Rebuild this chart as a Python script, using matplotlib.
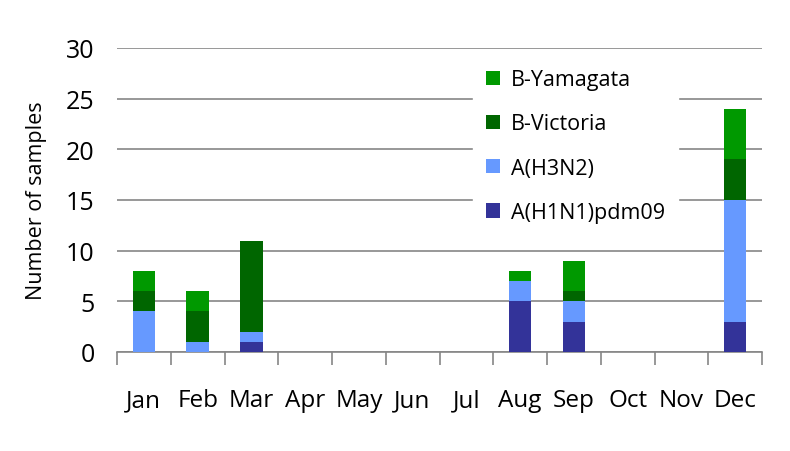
import matplotlib
matplotlib.use("Agg")
import matplotlib.pyplot as plt
import numpy as np

months = ["Jan", "Feb", "Mar", "Apr", "May", "Jun", "Jul", "Aug", "Sep", "Oct", "Nov", "Dec"]
h1n1 = [0, 0, 1, 0, 0, 0, 0, 5, 3, 0, 0, 3]
h3n2 = [4, 1, 1, 0, 0, 0, 0, 2, 2, 0, 0, 12]
victoria = [2, 3, 9, 0, 0, 0, 0, 0, 1, 0, 0, 4]
yamagata = [2, 2, 0, 0, 0, 0, 0, 1, 3, 0, 0, 5]

series_names = ["A(H1N1)pdm09", "A(H3N2)", "B-Victoria", "B-Yamagata"]
series_vals = [h1n1, h3n2, victoria, yamagata]
colors = ["#333399", "#6699FF", "#006600", "#009900"]

plt.rcParams['font.family'] = ['Open Sans', 'DejaVu Sans']

fig = plt.figure(figsize=(7.9, 4.52), dpi=100)
ax = fig.add_axes([117/790, 1 - 353/452, 645/790, 304/452])

x = np.arange(len(months))
bottom = np.zeros(len(months))
handles = []
for name, vals, c in zip(series_names, series_vals, colors):
    b = ax.bar(x, vals, width=0.42, bottom=bottom, color=c, label=name, zorder=3)
    handles.append(b)
    bottom += np.array(vals)

ax.set_xlim(-0.5, 11.5)
ax.set_ylim(0, 30)
ax.set_yticks([0, 5, 10, 15, 20, 25, 30])
ax.yaxis.grid(True, color="#868686", linewidth=1.2, zorder=0)
ax.set_axisbelow(True)

for s in ["top", "right", "left"]:
    ax.spines[s].set_visible(False)
ax.spines["bottom"].set_color("#868686")
ax.spines["bottom"].set_linewidth(1.2)

ax.set_xticks(x)
ax.set_xticklabels(months, fontsize=17.5)
ax.tick_params(axis="x", length=0, pad=26)
ax.set_xticks(np.arange(-0.5, 12, 1), minor=True)
ax.tick_params(axis="x", which="minor", length=9, color="#868686", width=1.2)
ax.tick_params(axis="y", length=0, labelsize=18, pad=16)

ax.set_ylabel("Number of samples", fontsize=15.5, labelpad=14)

leg = ax.legend(handles[::-1], series_names[::-1], loc="upper left",
                bbox_to_anchor=(0.536, 1.008), frameon=True, fontsize=15.5,
                handlelength=0.65, handleheight=0.65, handletextpad=0.5,
                labelspacing=1.08, borderpad=0.6, fancybox=False)
leg.get_frame().set_edgecolor("white")
leg.get_frame().set_facecolor("white")
leg.get_frame().set_alpha(1)
leg.set_zorder(5)

fig.savefig("out.png", dpi=100)
